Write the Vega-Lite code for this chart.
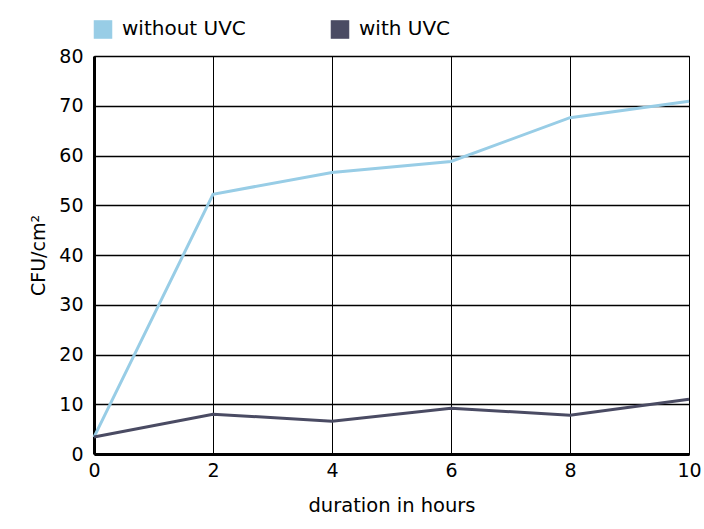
{
  "$schema": "https://vega.github.io/schema/vega-lite/v6.json",
  "width": 595,
  "height": 398,
  "autosize": {"type": "none"},
  "padding": {"left": 94, "top": 56, "right": 15, "bottom": 75},
  "background": "white",
  "config": {
    "font": "DejaVu Sans",
    "view": {"stroke": "black", "strokeWidth": 1},
    "axis": {"labelFont": "DejaVu Sans", "titleFont": "DejaVu Sans", "labelColor": "black", "titleColor": "black", "titleFontWeight": "normal"}
  },
  "data": {
    "values": [
      {"hours": 0, "cfu": 3.4, "series": "without UVC"},
      {"hours": 2, "cfu": 52.2, "series": "without UVC"},
      {"hours": 4, "cfu": 56.6, "series": "without UVC"},
      {"hours": 6, "cfu": 58.8, "series": "without UVC"},
      {"hours": 8, "cfu": 67.6, "series": "without UVC"},
      {"hours": 10, "cfu": 70.9, "series": "without UVC"},
      {"hours": 0, "cfu": 3.4, "series": "with UVC"},
      {"hours": 2, "cfu": 8.0, "series": "with UVC"},
      {"hours": 4, "cfu": 6.6, "series": "with UVC"},
      {"hours": 6, "cfu": 9.2, "series": "with UVC"},
      {"hours": 8, "cfu": 7.8, "series": "with UVC"},
      {"hours": 10, "cfu": 11.0, "series": "with UVC"}
    ]
  },
  "mark": {"type": "line", "strokeWidth": 3},
  "encoding": {
    "x": {
      "field": "hours", "type": "quantitative",
      "scale": {"domain": [0, 10], "nice": false, "zero": false},
      "axis": {
        "values": [0, 2, 4, 6, 8, 10], "title": "duration in hours",
        "grid": true, "gridColor": "black", "gridWidth": 1, "gridOpacity": 1,
        "domain": true, "domainColor": "black", "domainWidth": 3,
        "ticks": false, "labelPadding": 7, "labelFontSize": 19, "labelFlush": false,
        "titleFontSize": 19.5, "titleY": 51, "titleBaseline": "middle"
      }
    },
    "y": {
      "field": "cfu", "type": "quantitative",
      "scale": {"domain": [0, 80], "nice": false},
      "axis": {
        "values": [0, 10, 20, 30, 40, 50, 60, 70, 80], "title": "CFU/cm²",
        "grid": true, "gridColor": "black", "gridWidth": 1.4, "gridOpacity": 1,
        "domain": true, "domainColor": "black", "domainWidth": 3,
        "ticks": false, "labelPadding": 11, "labelFontSize": 19,
        "titleFontSize": 19, "titleX": -56, "titleY": 199, "titleAngle": 270,
        "titleAlign": "center", "titleBaseline": "middle"
      }
    },
    "color": {
      "field": "series", "type": "nominal",
      "scale": {"domain": ["without UVC", "with UVC"], "range": ["#98cde6", "#4a4b63"]},
      "legend": {
        "title": null, "orient": "none", "direction": "horizontal",
        "legendX": -1, "legendY": -37,
        "symbolType": "square", "symbolSize": 300, "symbolStrokeWidth": 1.2,
        "symbolStrokeColor": "#333344",
        "labelFontSize": 20, "labelColor": "black", "labelFont": "DejaVu Sans",
        "labelOffset": 9, "columnPadding": 82,
        "encode": {"symbols": {"update": {"fill": {"scale": "color", "field": "value"}, "fillOpacity": {"value": 1}, "stroke": {"value": "#333344"}, "strokeWidth": {"value": 1.2}, "strokeOpacity": {"value": 1}}}}
      }
    }
  }
}
